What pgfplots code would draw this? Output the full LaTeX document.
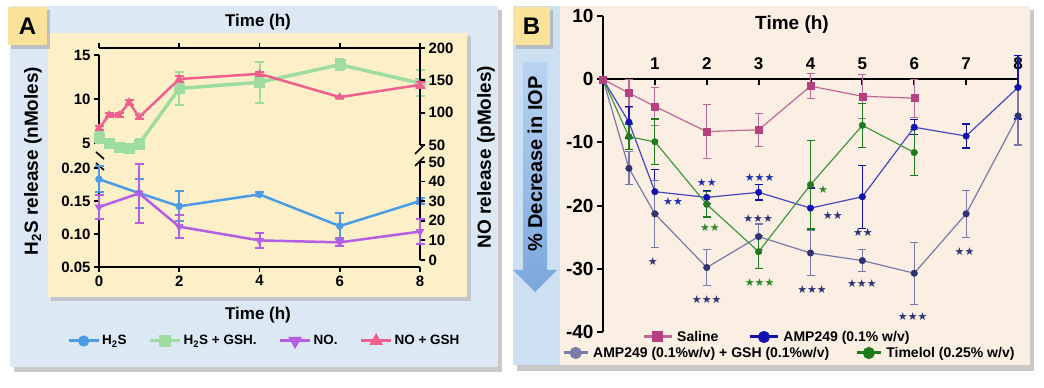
\documentclass[border=0pt]{standalone}
\usepackage{pgfplots}
\pgfplotsset{compat=1.18}
\usepackage{fontspec}
\setmainfont{Liberation Sans}
\newfontfamily\starfont{DejaVu Sans}
\definecolor{panelAblue}{HTML}{DCE8F4}
\definecolor{panelAyel}{HTML}{FDF0C9}
\definecolor{gold}{HTML}{FAE29A}
\definecolor{peach}{HTML}{FBEEE3}
\definecolor{stripB}{HTML}{CDE0F2}
\definecolor{arrowT}{HTML}{B9D4F1}
\definecolor{arrowB}{HTML}{7AA7DC}
\definecolor{blueA}{HTML}{4B9BE6}
\definecolor{greenA}{HTML}{9FDCA0}
\definecolor{purpleA}{HTML}{B45EE6}
\definecolor{pinkA}{HTML}{F0608E}
\definecolor{salL}{HTML}{C0679A}
\definecolor{salM}{HTML}{B5407F}
\definecolor{ampL}{HTML}{4646C4}
\definecolor{ampM}{HTML}{1212B0}
\definecolor{gshL}{HTML}{7A7AA8}
\definecolor{gshM}{HTML}{2E3470}
\definecolor{timL}{HTML}{3D9A3D}
\definecolor{timM}{HTML}{1D7A1D}
\definecolor{starN}{HTML}{2E3478}
\definecolor{starB}{HTML}{2233AA}
\definecolor{starG}{HTML}{2A8A2A}

\pgfplotsset{
  Abase/.style={scale only axis, width=321pt, xmin=0, xmax=8, clip=false,
    anchor=south west,
    axis line style={line width=1.8pt, black, -},
    tick style={line width=1.8pt, black},
    major tick length=5pt, tick align=outside,
    tick label style={font=\bfseries\fontsize{15}{15}\selectfont},
    /pgf/number format/assume math mode=true},
  Aerr/.style={error bars/.cd, y dir=both, y explicit,
    error bar style={line width=2pt, #1},
    error mark options={rotate=90, mark size=4.5pt, line width=2pt, #1}},
  Berr/.style={error bars/.cd, y dir=both, y explicit,
    error bar style={line width=1.2pt, #1},
    error mark options={rotate=90, mark size=4pt, line width=1.2pt, #1}},
  legimg/.style={legend image code/.code={\draw[mark repeat=2,mark phase=2,##1] plot coordinates {(0pt,0pt) (#1,0pt) (2*#1,0pt)};}},
}

\begin{document}
\begin{tikzpicture}[x=1pt,y=1pt]
\path[use as bounding box] (0,0) rectangle (1044,388);
\fill[white] (0,0) rectangle (1044,388);
% ---------- Panel A backgrounds
\fill[black!35, opacity=0.6] (14,16) rectangle (502,378);
\fill[panelAblue] (10,21) rectangle (498,382);
\fill[black!30, opacity=0.6] (51,87) rectangle (471,352);
\fill[panelAyel] (48,91) rectangle (467,355);
\fill[black!35, opacity=0.6] (11,339) rectangle (50,378);
\fill[gold] (8,343) rectangle (47,381);
\node[font=\bfseries\fontsize{24}{24}\selectfont] at (27.5,362) {A};
% ---------- Panel B backgrounds
\fill[black!35, opacity=0.6] (517,17) rectangle (1034,378);
\fill[peach] (513,23) rectangle (1030,382);
\fill[stripB] (513,23) rectangle (560,382);
\fill[black!35, opacity=0.6] (516,339) rectangle (553,378);
\fill[gold] (513,343) rectangle (550,381);
\node[font=\bfseries\fontsize{24}{24}\selectfont] at (531.5,362) {B};
\shade[top color=arrowT, bottom color=arrowB] (523,326) -- (547,326) -- (547,118) -- (557,118) -- (535,96) -- (513,118) -- (523,118) -- cycle;
\node[rotate=90, font=\bfseries\fontsize{20}{20}\selectfont] at (535,224) {\% Decrease in IOP};

% ---------- Panel A texts
\node[font=\bfseries\fontsize{17}{17}\selectfont] at (258,366) {Time (h)};
\node[font=\bfseries\fontsize{17}{17}\selectfont] at (258,73) {Time (h)};
\node[rotate=90, font=\bfseries\fontsize{19}{19}\selectfont] at (33,227) {H\textsubscript{2}S release (nMoles)};
\node[rotate=90, font=\bfseries\fontsize{19}{19}\selectfont] at (486,231) {NO release (pMoles)};
% axis breaks
\draw[line width=1.6pt] (96,236) -- (104,229);
\draw[line width=1.6pt] (96,225) -- (104,218);
\draw[line width=1.6pt] (415,234) -- (424,243);
\draw[line width=1.6pt] (415,222) -- (424,231);

% Lower left: H2S
\begin{axis}[Abase, at={(99pt,121pt)}, height=99pt, ymin=0.05, ymax=0.20,
  axis x line*=bottom, axis y line*=left,
  xtick={0,2,4,6,8}, ytick={0.05,0.10,0.15,0.20},
  yticklabel style={/pgf/number format/.cd, fixed, fixed zerofill, precision=2}]
\addplot[blueA, line width=2.5pt, mark=*, mark size=3.5pt, mark options={solid, line width=0.5pt, fill=blueA}, Aerr=blueA]
 coordinates {(0,0.183) +- (0,0.02) (1,0.162) +- (0,0.022) (2,0.142) +- (0,0.023) (4,0.160) +- (0,0.003) (6,0.112) +- (0,0.02) (8,0.150) +- (0,0.004)};
\end{axis}
% Lower right: NO
\begin{axis}[Abase, at={(99pt,128pt)}, height=98pt, ymin=0, ymax=50,
  axis x line=none, axis y line*=right, ytick={0,10,20,30,40,50}]
\addplot[purpleA, line width=2.5pt, mark=triangle*, mark size=4.5pt, mark options={solid, rotate=180, line width=0.5pt, fill=purpleA}, Aerr=purpleA]
 coordinates {(0,27) +- (0,6) (1,34) +- (0,15) (2,17) +- (0,6) (4,10) +- (0,4) (6,9) +- (0,2) (8,14.5) +- (0,6.5)};
\end{axis}
% Upper left: H2S + GSH
\begin{axis}[Abase, at={(99pt,245pt)}, height=88pt, ymin=5, ymax=15,
  axis x line=none, axis y line*=left, ytick={5,10,15}]
\addplot[greenA, line width=3.5pt, mark=square*, mark size=5pt, mark options={solid, line width=0.5pt, fill=greenA}, Aerr=greenA]
 coordinates {(0,5.7) +- (0,0.7) (0.25,5.0) +- (0,0.5) (0.5,4.5) +- (0,0.5) (0.75,4.4) +- (0,0.5) (1,4.9) +- (0,0.5) (2,11.2) +- (0,1.9) (4,11.9) +- (0,2.3) (6,13.9) +- (0,0.6) (8,11.8) +- (0,1.5)};
\end{axis}
% Upper right: NO + GSH
\begin{axis}[Abase, at={(99pt,243pt)}, height=97pt, ymin=50, ymax=200,
  axis x line*=top, axis y line*=right, xtick={0,2,4,6,8}, xticklabels={}, ytick={50,100,150,200}]
\addplot[pinkA, line width=2.5pt, mark=triangle*, mark size=4.5pt, mark options={solid, line width=0.5pt, fill=pinkA}, Aerr=pinkA]
 coordinates {(0,76) +- (0,3) (0.25,96) +- (0,3) (0.5,96) +- (0,3) (0.75,116) +- (0,4) (1,93) +- (0,3) (2,152) +- (0,4) (4,160) +- (0,3) (6,124) +- (0,2) (8,143) +- (0,5)};
\end{axis}
% Panel A legend
\begin{axis}[hide axis, scale only axis, width=1pt, height=1pt, at={(67pt,47pt)}, anchor=center,
  xmin=0, xmax=1, ymin=0, ymax=1, legimg=15pt, legend columns=4,
  legend style={at={(0.5,0.5)}, anchor=west, draw=none, fill=none, inner sep=0pt,
    font=\bfseries\fontsize{13.5}{13.5}\selectfont, nodes={inner xsep=2pt},
    /tikz/every even column/.append style={column sep=20pt}}]
\addlegendimage{blueA, line width=3pt, mark=*, mark size=4pt}
\addlegendentry{H\textsubscript{2}S}
\addlegendimage{greenA, line width=3pt, mark=square*, mark size=4.5pt}
\addlegendentry{H\textsubscript{2}S + GSH.}
\addlegendimage{purpleA, line width=3pt, mark=triangle*, mark size=5pt, mark options={rotate=180}}
\addlegendentry{NO.}
\addlegendimage{pinkA, line width=3pt, mark=triangle*, mark size=5pt}
\addlegendentry{NO + GSH}
\end{axis}

% ---------- Panel B
\node[font=\bfseries\fontsize{19}{19}\selectfont] at (792,363) {Time (h)};
\begin{axis}[scale only axis, at={(603pt,56pt)}, anchor=south west, width=415pt, height=316pt,
  xmin=0, xmax=8, ymin=-40, ymax=10, clip=false,
  axis x line*=middle, axis y line*=left, hide obscured y ticks=false, hide obscured x ticks=false,
  axis line style={line width=2pt, black, -},
  tick style={line width=2pt, black},
  xtick={1,2,3,4,5,6,7,8}, ytick={-40,-30,-20,-10,0,10},
  tick align=outside, major tick length=6pt,
  xticklabel style={font=\bfseries\fontsize{17}{17}\selectfont, anchor=south, yshift=12pt},
  yticklabel style={font=\bfseries\fontsize{19}{19}\selectfont},
  /pgf/number format/assume math mode=true]
\addplot[salL, line width=1.2pt, mark=square*, mark size=3.5pt, mark options={solid, salM, fill=salM, line width=0.4pt}, Berr=salL]
 coordinates {(0,0) +- (0,0) (0.5,-2.2) +- (0,2.2) (1,-4.3) +- (0,3) (2,-8.3) +- (0,4.3) (3,-8.0) +- (0,2.6) (4,-1.1) +- (0,2) (5,-2.7) +- (0,3.5) (6,-3.0) +- (0,3)};
\addplot[ampL, line width=1.2pt, mark=*, mark size=3.3pt, mark options={solid, ampM, fill=ampM, line width=0.4pt}, Berr=ampM]
 coordinates {(0,0) +- (0,0) (0.5,-6.8) +- (0,2.5) (1,-17.8) +- (0,3.5) (2,-18.7) +- (0,1) (3,-17.9) +- (0,1.2) (4,-20.4) +- (0,3.2) (5,-18.6) +- (0,5) (6,-7.6) +- (0,1.2) (7,-9.0) +- (0,1.9) (8,-1.3) +- (0,5)};
\addplot[gshL, line width=1.2pt, mark=*, mark size=3.3pt, mark options={solid, gshM, fill=gshM, line width=0.4pt}, Berr=gshL]
 coordinates {(0,0) +- (0,0) (0.5,-14.1) +- (0,2.6) (1,-21.3) +- (0,5.3) (2,-29.8) +- (0,2.9) (3,-24.9) +- (0,2) (4,-27.5) +- (0,3.5) (5,-28.7) +- (0,1.7) (6,-30.7) +- (0,4.9) (7,-21.3) +- (0,3.7) (8,-5.8) +- (0,4.6)};
\addplot[timL, line width=1.2pt, mark=*, mark size=3.3pt, mark options={solid, timM, fill=timM, line width=0.4pt}, Berr=timM]
 coordinates {(0,0) +- (0,0) (0.5,-9.1) +- (0,2) (1,-9.9) +- (0,3.6) (2,-19.8) +- (0,2) (3,-27.3) +- (0,2.6) (4,-16.7) +- (0,7) (5,-7.3) +- (0,3.5) (6,-11.6) +- (0,3.6)};
\addplot[salM, only marks, mark=square*, mark size=3.5pt] coordinates {(0,0)};
% significance stars
\begin{scope}[every node/.style={font=\starfont\fontsize{11}{11}\selectfont, inner sep=0pt}]
\node[text=starB] at (axis cs:1.35,-19.3) {★★};
\node[text=starN] at (axis cs:0.96,-28.9) {★};
\node[text=starB] at (axis cs:2.0,-16.3) {★★};
\node[text=starG] at (axis cs:2.06,-23.4) {★★};
\node[text=starN] at (axis cs:2.0,-34.8) {★★★};
\node[text=starB] at (axis cs:3.02,-15.5) {★★★};
\node[text=starN] at (axis cs:2.99,-22.0) {★★★};
\node[text=starG] at (axis cs:3.02,-32.2) {★★★};
\node[text=starG] at (axis cs:4.24,-17.5) {★};
\node[text=starN] at (axis cs:4.43,-21.5) {★★};
\node[text=starN] at (axis cs:4.03,-33.3) {★★★};
\node[text=starN] at (axis cs:5.01,-24.3) {★★};
\node[text=starN] at (axis cs:4.99,-32.4) {★★★};
\node[text=starN] at (axis cs:5.97,-37.6) {★★★};
\node[text=starN] at (axis cs:6.97,-27.3) {★★};
\end{scope}
\end{axis}
% Panel B legend row 1
\begin{axis}[hide axis, scale only axis, width=1pt, height=1pt, at={(642pt,51pt)}, anchor=center,
  xmin=0, xmax=1, ymin=0, ymax=1, legimg=14pt, legend columns=2,
  legend style={at={(0.5,0.5)}, anchor=west, draw=none, fill=none, inner sep=0pt,
    font=\bfseries\fontsize{14}{14}\selectfont, nodes={inner xsep=4pt},
    /tikz/every even column/.append style={column sep=26pt}}]
\addlegendimage{salL, line width=3pt, mark=square*, mark size=4pt, mark options={salM, fill=salM}}
\addlegendentry{Saline}
\addlegendimage{ampM, line width=3pt, mark=*, mark size=4.5pt}
\addlegendentry{AMP249 (0.1\% w/v)}
\end{axis}
% Panel B legend row 2
\begin{axis}[hide axis, scale only axis, width=1pt, height=1pt, at={(562pt,35pt)}, anchor=center,
  xmin=0, xmax=1, ymin=0, ymax=1, legimg=12pt, legend columns=2,
  legend style={at={(0.5,0.5)}, anchor=west, draw=none, fill=none, inner sep=0pt,
    font=\bfseries\fontsize{14}{14}\selectfont, nodes={inner xsep=4pt},
    /tikz/every even column/.append style={column sep=22pt}}]
\addlegendimage{gshL, line width=3pt, mark=*, mark size=4.5pt, mark options={gshL, fill=gshL}}
\addlegendentry{AMP249 (0.1\%w/v) + GSH (0.1\%w/v)}
\addlegendimage{timM, line width=3pt, mark=*, mark size=4.5pt}
\addlegendentry{Timelol (0.25\% w/v)}
\end{axis}
\end{tikzpicture}
\end{document}
